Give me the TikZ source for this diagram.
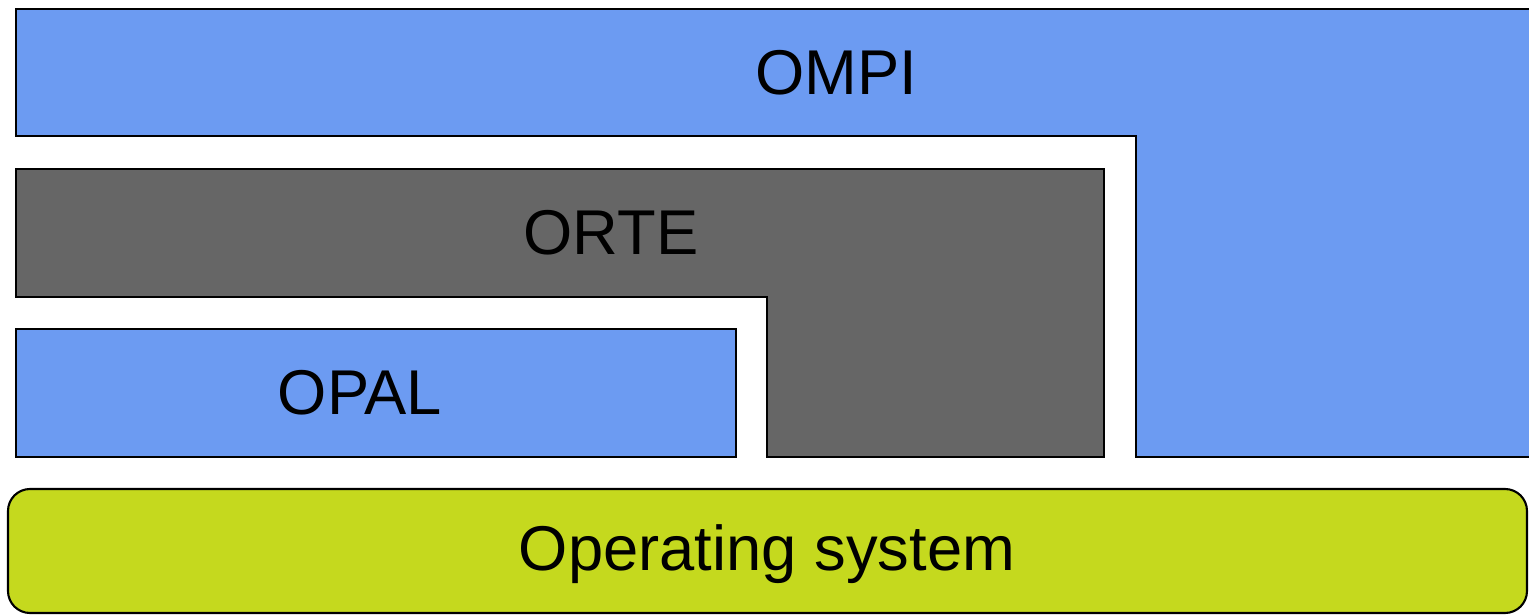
\documentclass[tikz,border=0pt]{standalone}
\usepackage{fontspec}
\setmainfont{Liberation Sans}
\usetikzlibrary{calc,positioning}
\definecolor{layerblue}{RGB}{108,155,242}
\definecolor{layergray}{RGB}{102,102,102}
\definecolor{osgreen}{RGB}{197,217,30}

\begin{document}
\begin{tikzpicture}[x=0.01cm,y=-0.01cm,
    layer/.style={draw=black,line width=0.6pt,line join=miter},
    label/.style={inner sep=0,font=\fontsize{18}{22}\selectfont}]
  \useasboundingbox (0,0) rectangle (1529,615);
  % draw OMPI layer
  \fill[layerblue] (16,9) -- (1529,9) -- (1529,457) -- (1136,457) -- (1136,136) -- (16,136) -- cycle;
  \draw[layer] (1529,9) -- (16,9) -- (16,136) -- (1136,136) -- (1136,457) -- (1529,457);
  \node[label] (ompi) at (836,73) {OMPI};
  % draw ORTE layer
  \filldraw[layer,fill=layergray] (16,169) -- (1104,169) -- (1104,457) -- (767,457) -- (767,297) -- (16,297) -- cycle;
  \node[label] (orte) at (611,233) {ORTE};
  % draw OPAL layer
  \filldraw[layer,fill=layerblue] (16,329) rectangle (736,457);
  \node[label] (opal) at (360,393) {OPAL};
  % draw operating system
  \filldraw[layer,fill=osgreen,rounded corners=0.22cm] (8,489) rectangle (1527,613);
  \node[label] (os) at (767,554) {Operating system};
\end{tikzpicture}
\end{document}
